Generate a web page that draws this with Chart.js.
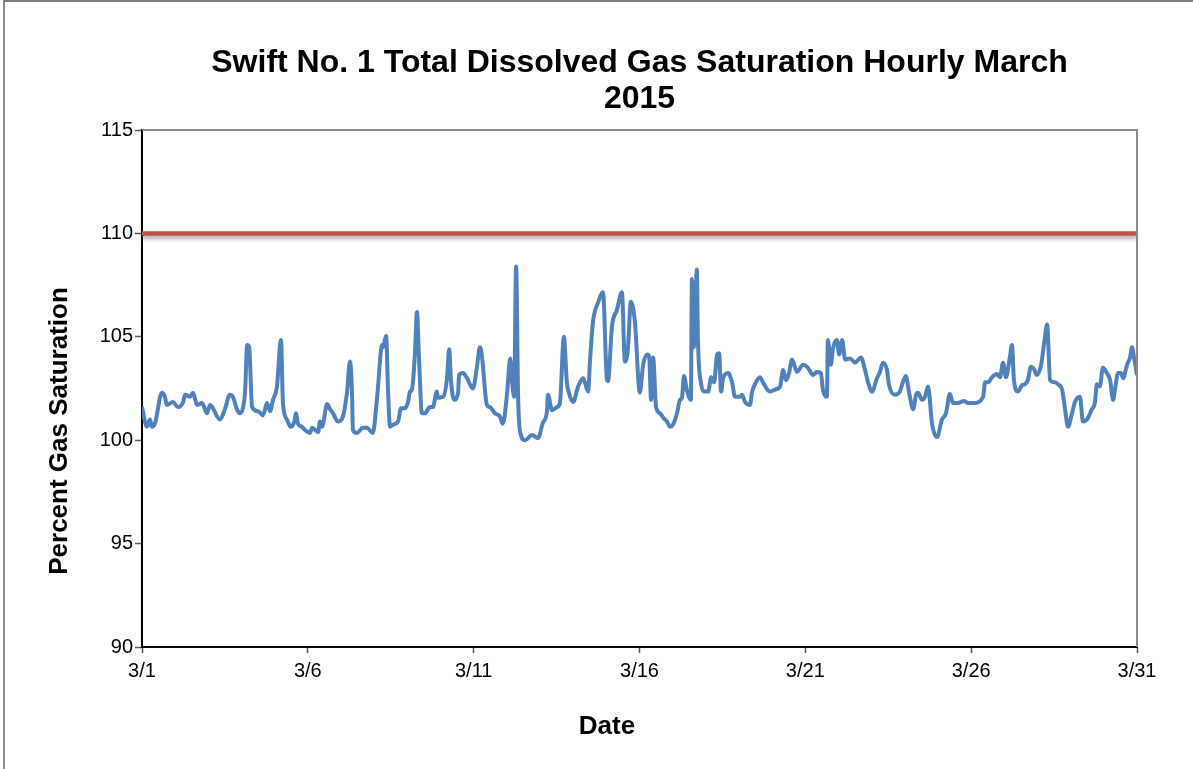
<!DOCTYPE html>
<html>
<head>
<meta charset="utf-8">
<title>Swift No. 1 TDG March 2015</title>
<script src="https://cdn.jsdelivr.net/npm/chart.js@4.4.1/dist/chart.umd.min.js"></script>
<style>
    html, body { margin: 0; padding: 0; background: #fff; }
    #wrap { position: relative; width: 1193px; height: 769px; }
    #frame { position: absolute; left: 3px; top: 0; width: 1190px; height: 769px;
             border-top: 2px solid #7f7f7f; border-left: 2px solid #8c8c8c; box-sizing: border-box; pointer-events: none; }
</style>
</head>
<body>
<div id="wrap">
    <canvas id="tdgChart" width="1193" height="769"></canvas>
    <div id="frame"></div>
</div>
<script>
// days elapsed since 3/1 00:00
const dayOffsets = [
    0.00, 0.15, 0.24, 0.30, 0.39, 0.60, 0.69, 0.75, 0.93, 1.09, 1.24, 1.30, 1.45, 1.54, 1.66, 1.81,
    1.96, 2.05, 2.35, 2.50, 2.65, 2.74, 2.86, 2.95, 3.05, 3.11, 3.17, 3.23, 3.32, 3.50, 3.65, 3.77,
    3.86, 3.95, 4.07, 4.19, 4.25, 4.37, 4.49, 4.61, 4.64, 4.70, 4.82, 4.91, 5.07, 5.13, 5.22, 5.31,
    5.37, 5.43, 5.58, 5.67, 5.76, 5.91, 6.06, 6.18, 6.27, 6.33, 6.36, 6.48, 6.66, 6.78, 6.96, 7.09,
    7.24, 7.27, 7.36, 7.42, 7.48, 7.57, 7.72, 7.81, 7.93, 8.02, 8.08, 8.14, 8.23, 8.29, 8.35, 8.44,
    8.53, 8.68, 8.77, 8.89, 8.92, 9.08, 9.20, 9.26, 9.32, 9.41, 9.53, 9.56, 9.68, 9.80, 9.98, 10.10,
    10.19, 10.25, 10.40, 10.49, 10.64, 10.79, 10.88, 11.01, 11.10, 11.16, 11.22, 11.28, 11.34, 11.40, 11.55, 11.76,
    11.94, 12.09, 12.21, 12.24, 12.36, 12.51, 12.60, 12.72, 12.81, 12.87, 13.00, 13.15, 13.30, 13.45, 13.51, 13.60,
    13.75, 13.90, 14.02, 14.05, 14.17, 14.32, 14.47, 14.56, 14.65, 14.74, 14.86, 15.01, 15.11, 15.23, 15.29, 15.35,
    15.41, 15.50, 15.62, 15.71, 15.83, 15.92, 16.01, 16.13, 16.22, 16.28, 16.34, 16.43, 16.55, 16.58, 16.64, 16.73,
    16.76, 16.85, 16.97, 17.07, 17.16, 17.25, 17.34, 17.40, 17.46, 17.52, 17.67, 17.79, 17.88, 18.03, 18.09, 18.18,
    18.33, 18.39, 18.48, 18.63, 18.72, 18.93, 19.09, 19.24, 19.33, 19.42, 19.51, 19.60, 19.75, 19.93, 20.08, 20.23,
    20.35, 20.47, 20.53, 20.65, 20.68, 20.77, 20.83, 20.95, 21.02, 21.11, 21.20, 21.35, 21.50, 21.68, 21.80, 21.89,
    22.01, 22.16, 22.25, 22.34, 22.46, 22.52, 22.70, 22.85, 22.94, 23.03, 23.13, 23.25, 23.34, 23.40, 23.52, 23.61,
    23.70, 23.82, 23.97, 24.12, 24.24, 24.36, 24.45, 24.60, 24.78, 24.90, 25.08, 25.36, 25.42, 25.51, 25.63, 25.78,
    25.87, 25.96, 26.05, 26.17, 26.23, 26.29, 26.41, 26.53, 26.62, 26.71, 26.80, 26.89, 26.98, 27.11, 27.20, 27.29,
    27.38, 27.53, 27.62, 27.74, 27.83, 27.92, 28.04, 28.13, 28.28, 28.37, 28.49, 28.64, 28.73, 28.79, 28.88, 28.97,
    29.09, 29.19, 29.28, 29.34, 29.43, 29.52, 29.58, 29.70, 29.79, 29.85, 29.91, 30.00
];

// percent total dissolved gas saturation
const gasPct = [
    101.6, 100.65, 101.0, 100.65, 100.8, 102.3, 102.1, 101.7, 101.85, 101.6, 101.85, 102.2, 102.1, 102.3, 101.7, 101.8,
    101.3, 101.7, 101.0, 101.5, 102.2, 102.1, 101.5, 101.3, 101.6, 102.4, 104.6, 104.5, 101.6, 101.4, 101.2, 101.8,
    101.4, 101.95, 102.6, 104.85, 101.8, 101.0, 100.65, 101.0, 101.3, 100.8, 100.65, 100.5, 100.35, 100.6, 100.5, 100.4,
    100.9, 100.65, 101.75, 101.5, 101.3, 100.9, 101.15, 102.3, 103.8, 102.4, 100.5, 100.35, 100.6, 100.6, 100.35, 102.1,
    104.6, 104.5, 105.05, 102.3, 100.65, 100.75, 100.9, 101.55, 101.55, 101.85, 102.35, 102.45, 104.2, 106.2, 104.05, 101.3,
    101.3, 101.6, 101.6, 102.35, 102.05, 102.1, 103.05, 104.4, 102.8, 101.95, 102.3, 103.15, 103.25, 103.0, 102.5, 103.55,
    104.5, 104.05, 101.7, 101.6, 101.3, 101.15, 100.8, 102.3, 103.95, 102.8, 102.1, 108.4, 102.1, 100.4, 100.0, 100.25,
    100.1, 100.85, 101.4, 102.2, 101.45, 101.6, 101.8, 105.0, 102.8, 102.3, 101.85, 102.6, 103.0, 102.35, 103.9, 105.75,
    106.65, 107.15, 102.9, 102.85, 105.5, 106.3, 107.15, 103.8, 104.4, 106.7, 105.75, 102.3, 103.65, 104.15, 104.05, 101.95,
    104.0, 101.6, 101.3, 101.1, 100.9, 100.65, 100.75, 101.3, 101.95, 102.05, 103.1, 102.4, 101.95, 107.8, 104.5, 108.25,
    105.0, 102.8, 102.35, 102.35, 103.05, 102.8, 104.15, 104.2, 102.35, 103.0, 103.25, 102.8, 102.1, 102.1, 102.2, 101.85,
    101.7, 102.3, 102.7, 103.05, 102.8, 102.35, 102.45, 102.6, 103.4, 102.9, 103.25, 103.9, 103.3, 103.65, 103.5, 103.15,
    103.3, 103.25, 102.45, 102.1, 104.85, 103.65, 104.4, 104.85, 104.15, 104.85, 103.9, 103.95, 103.75, 104.0, 103.4, 102.8,
    102.35, 103.0, 103.3, 103.75, 103.4, 102.7, 102.2, 102.35, 102.8, 103.1, 102.3, 101.5, 102.2, 102.3, 101.95, 102.1,
    102.6, 100.8, 100.15, 101.0, 101.3, 102.25, 101.8, 101.8, 101.9, 101.8, 101.8, 102.1, 102.8, 102.8, 103.05, 103.2,
    103.05, 103.75, 103.05, 104.05, 104.6, 102.9, 102.35, 102.65, 102.7, 102.9, 103.55, 103.45, 103.15, 103.65, 104.7, 105.6,
    102.9, 102.8, 102.7, 102.45, 101.5, 100.65, 101.3, 101.85, 102.1, 100.9, 101.0, 101.5, 101.8, 102.7, 102.6, 103.5,
    103.25, 102.9, 101.95, 102.5, 103.25, 103.25, 103.0, 103.65, 104.0, 104.5, 104.0, 103.15
];

const limitDays = [0, 30];
const limitPct = [110, 110];

const xTickLabels = ['3/1', '3/6', '3/11', '3/16', '3/21', '3/26', '3/31'];
const yTicks = [90, 95, 100, 105, 110, 115];

const FONT = '"Liberation Sans", Arial, sans-serif';

// top/right plot frame, shadow for limit line, axis titles (Excel-like placement)
const excelLook = {
    id: 'excelLook',
    beforeDatasetDraw(chart, args) {
        if (args.index === 1) {
            const ctx = chart.ctx;
            ctx.save();
            ctx.shadowColor = 'rgba(0,0,0,0.35)';
            ctx.shadowBlur = 4;
            ctx.shadowOffsetY = 3;
        }
    },
    afterDatasetDraw(chart, args) {
        if (args.index === 1) chart.ctx.restore();
    },
    afterDraw(chart) {
        const { ctx, chartArea } = chart;
        ctx.save();
        ctx.strokeStyle = '#8a8a8a';
        ctx.lineWidth = 2;
        ctx.beginPath();
        ctx.moveTo(chartArea.left, chartArea.top);
        ctx.lineTo(chartArea.right, chartArea.top);
        ctx.lineTo(chartArea.right, chartArea.bottom);
        ctx.stroke();

        ctx.fillStyle = '#000';
        ctx.font = 'bold 26px ' + FONT;
        ctx.textAlign = 'center';
        ctx.textBaseline = 'middle';
        ctx.fillText('Date', 607, 727);
        ctx.translate(60, 431);
        ctx.rotate(-Math.PI / 2);
        ctx.fillText('Percent Gas Saturation', 0, 0);
        ctx.restore();
    }
};

const toPoints = (xs, ys) => xs.map((x, i) => ({ x: x, y: ys[i] }));

new Chart(document.getElementById('tdgChart').getContext('2d'), {
    type: 'line',
    data: {
        datasets: [{
            label: 'TDG %',
            data: toPoints(dayOffsets, gasPct),
            borderColor: '#4F81BD',
            borderWidth: 4,
            pointRadius: 0,
            tension: 0.25,
            cubicInterpolationMode: 'monotone',
            borderJoinStyle: 'round',
            order: 2
        }, {
            label: 'Limit',
            data: toPoints(limitDays, limitPct),
            borderColor: '#C0504D',
            borderWidth: 4.5,
            pointRadius: 0,
            clip: false,
            order: 1
        }]
    },
    options: {
        responsive: false,
        animation: false,
        devicePixelRatio: 1,
        layout: { padding: { left: 0, right: 56, top: 0, bottom: 0 } },
        plugins: {
            legend: { display: false },
            tooltip: { enabled: false },
            title: {
                display: true,
                fullSize: false,
                text: ['Swift No. 1 Total Dissolved Gas Saturation Hourly March', '2015'],
                color: '#000',
                font: { family: FONT, size: 32, weight: 'bold', lineHeight: 1.125 },
                padding: { top: 45, bottom: 13 }
            }
        },
        scales: {
            x: {
                type: 'linear',
                min: 0,
                max: 30,
                afterFit: s => { s.height = 122; },
                afterBuildTicks: s => { s.ticks = xTickLabels.map((_, i) => ({ value: i * 5 })); },
                ticks: {
                    color: '#000',
                    font: { family: FONT, size: 20 },
                    padding: 6,
                    maxRotation: 0,
                    autoSkip: false,
                    callback: (v, i) => xTickLabels[i]
                },
                grid: { drawOnChartArea: false, tickLength: 6, tickColor: '#555', tickWidth: 1.5 },
                border: { color: '#000', width: 2 }
            },
            y: {
                min: 90,
                max: 115,
                afterFit: s => { s.width = 142; },
                afterBuildTicks: s => { s.ticks = yTicks.map(v => ({ value: v })); },
                ticks: {
                    color: '#000',
                    font: { family: FONT, size: 20 },
                    padding: 2
                },
                grid: { drawOnChartArea: false, tickLength: 7, tickColor: '#555', tickWidth: 1.5 },
                border: { color: '#000', width: 2 }
            }
        }
    },
    plugins: [excelLook]
});
</script>
</body>
</html>
